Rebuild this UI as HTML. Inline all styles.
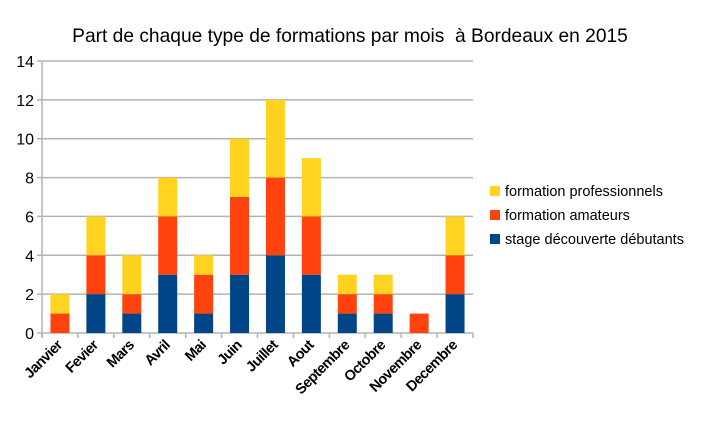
<!DOCTYPE html>
<html><head><meta charset="utf-8"><style>
body{margin:0;background:#fff;font-family:"Liberation Sans",sans-serif}
</style></head><body>
<svg id="c" width="705" height="434" xmlns="http://www.w3.org/2000/svg">
<text x="350" y="42" text-anchor="middle" font-size="19.2" fill="#000" xml:space="preserve">Part de chaque type de formations par mois  à Bordeaux en 2015</text>
</svg>
<script>
const categories=["Janvier","Fevier","Mars","Avril","Mai","Juin","Juillet","Aout","Septembre","Octobre","Novembre","Decembre"];
const stage=[0,2,1,3,1,3,4,3,1,1,0,2];
const amateurs=[1,2,1,3,2,4,4,3,1,1,1,2];
const pros=[1,2,2,2,1,3,4,3,1,1,0,2];
const yTicks=[0,2,4,6,8,10,12,14];
const seriesNames=["stage découverte débutants"," formation amateurs","formation professionnels"];
const colors=["#004586","#ff420e","#ffd320"];
const svg=document.getElementById('c');const NS="http://www.w3.org/2000/svg";
const X0=42,X1=473,Y0=333,Y1=61;
const cw=(X1-X0)/categories.length;
const y=v=>Y0-(v/14)*(Y0-Y1);
function mk(t,a,p){const e=document.createElementNS(NS,t);for(const k in a)e.setAttribute(k,a[k]);(p||svg).appendChild(e);return e;}
yTicks.forEach(t=>{
 const l=mk('line',{x1:X0-5,x2:X1,y1:y(t),y2:y(t),stroke:'#b3b3b3','stroke-width':1.5});
 
 
 const tx=mk('text',{x:X0-8,y:y(t)+6,'text-anchor':'end','font-size':16,fill:'#000'});tx.textContent=t;
 
 
});
const ax=mk('line',{x1:X0,x2:X0,y1:Y1,y2:Y0+5,stroke:'#b3b3b3','stroke-width':1.5});


for(let i=0;i<=categories.length;i++){
 const t=mk('line',{x1:X0+i*cw,x2:X0+i*cw,y1:Y0,y2:Y0+5,stroke:'#b3b3b3','stroke-width':1.5});
 
 
}
const series=[stage,amateurs,pros];
categories.forEach((c,i)=>{
 let base=0;const cx=X0+cw*(i+0.5);
 series.forEach((s,k)=>{
  if(s[i]>0){const r=mk('rect',{x:cx-9.5,width:19,y:y(base+s[i]),height:y(base)-y(base+s[i]),fill:colors[k]});
  
  }
  base+=s[i];
 });
 const ax2=cx+3, ay=Y0+13;
 const tx=mk('text',{x:ax2,y:ay,'text-anchor':'end','font-size':14.5,'font-weight':'bold','letter-spacing':'-0.6',fill:'#000',transform:`rotate(-45 ${ax2} ${ay})`});
 tx.textContent=c;
 
 
});
[2,1,0].forEach((k,j)=>{
 const yy=186+j*24;
 const r=mk('rect',{x:490,y:yy,width:10,height:10,fill:colors[k]});
 
 
 const t=mk('text',{x:505,y:yy+10,'font-size':14.5,fill:'#000','xml:space':'preserve'});t.textContent=seriesNames[k];
 
 
});
</script>
</body></html>
